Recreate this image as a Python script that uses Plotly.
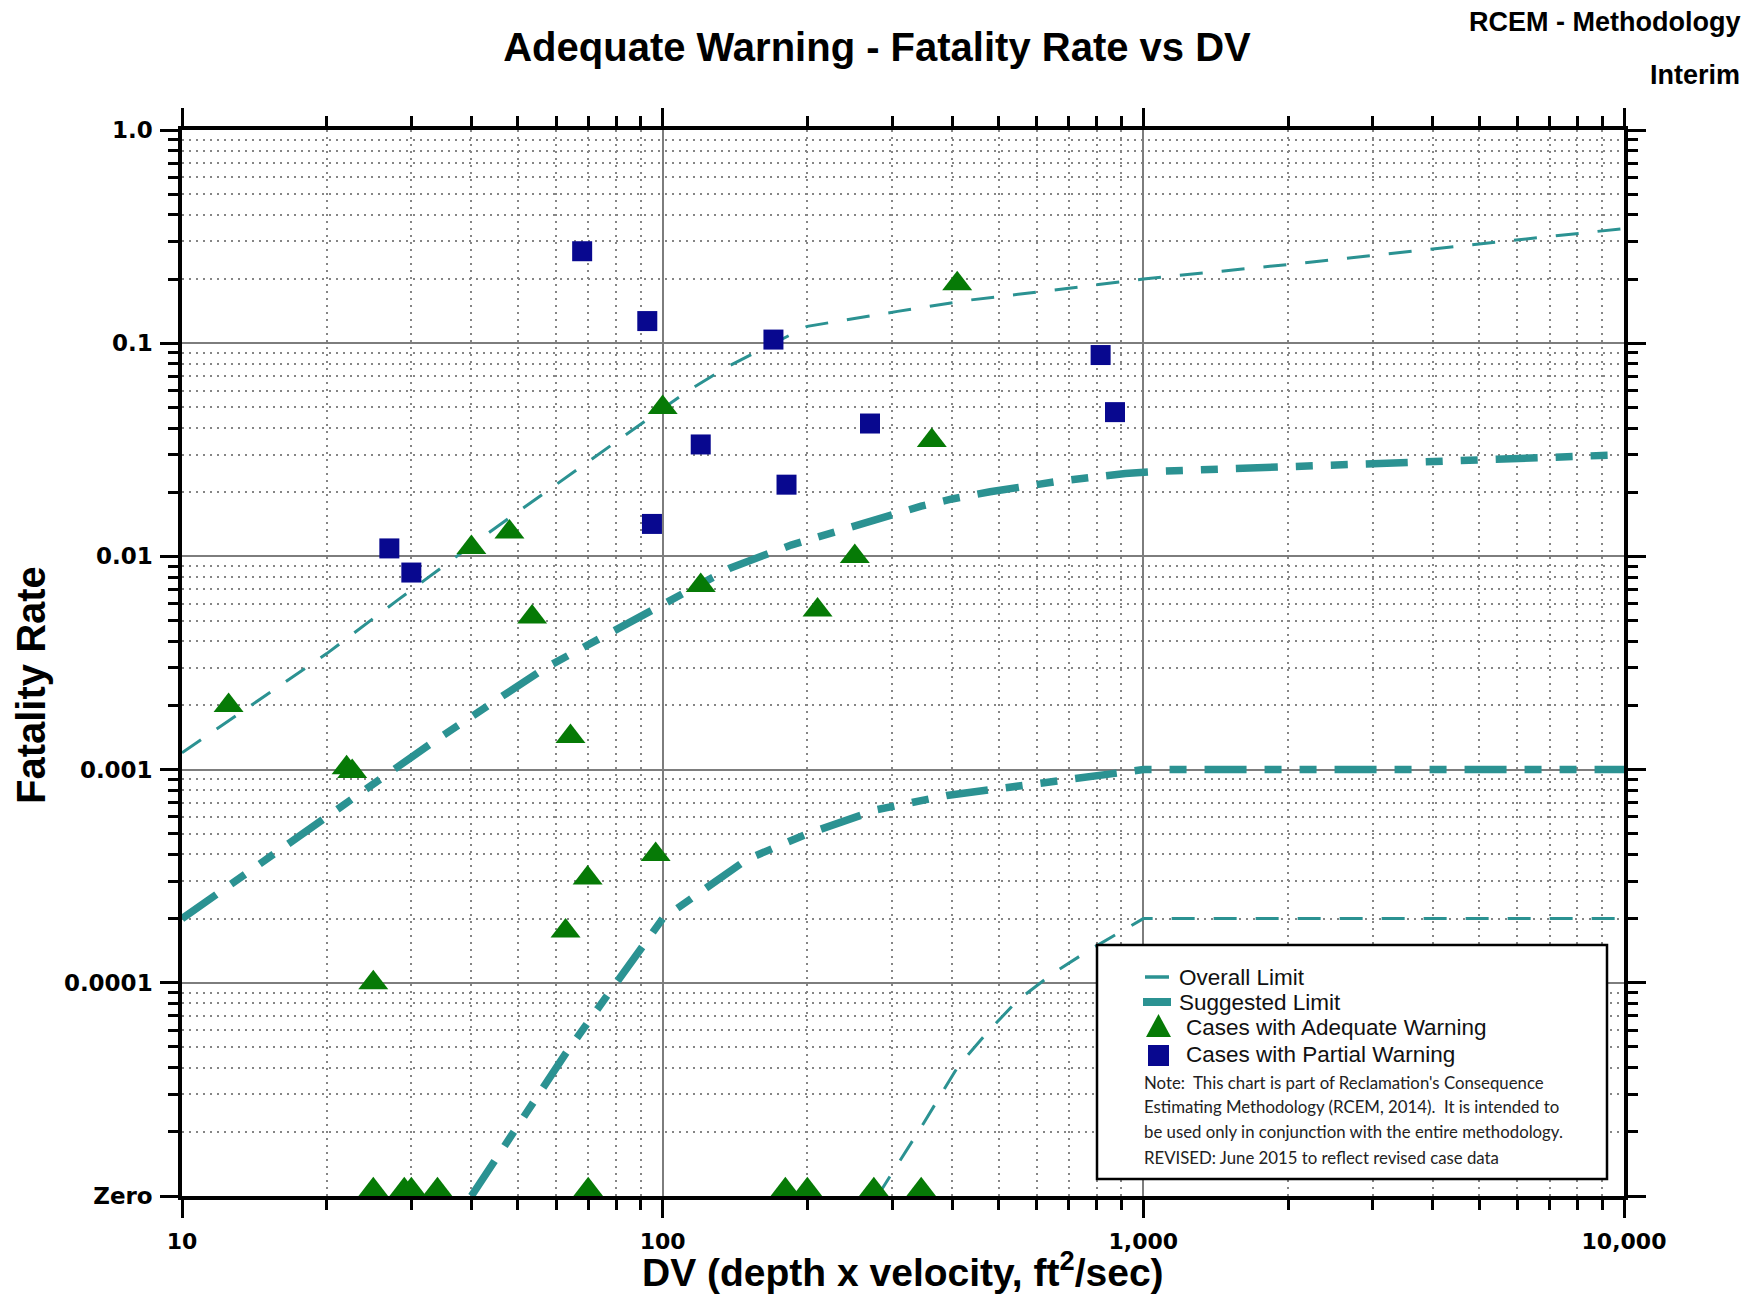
import plotly.graph_objects as go

# ---- Limit curves (DV in ft^2/s, fatality rate) ----
overall_upper_dv = [10, 20, 28, 43, 94, 114, 137, 170, 200, 308, 432, 700, 1000, 2000, 3860, 7300, 10000]
overall_upper_fr = [0.0012, 0.0035, 0.0062, 0.0127, 0.0447, 0.0606, 0.078, 0.100, 0.120, 0.141, 0.159,
                    0.181, 0.200, 0.234, 0.275, 0.320, 0.345]

suggested_upper_dv = [10, 20, 33.5, 57, 100, 138, 185, 256, 345, 400, 480, 656, 918, 1100, 2000, 4000,
                      7700, 10000]
suggested_upper_fr = [0.0002, 0.0006, 0.00136, 0.003, 0.006, 0.0088, 0.0113, 0.0142, 0.0172, 0.0186,
                      0.0201, 0.0224, 0.0245, 0.0251, 0.0263, 0.0277, 0.029, 0.030]

suggested_lower_dv = [40, 49, 63, 78, 92, 100, 118, 150, 200, 280, 390, 480, 605, 715, 908, 1000, 10000]
suggested_lower_fr = [1e-5, 2e-5, 4.7e-5, 9.2e-5, 0.000153, 0.0002, 0.00026, 0.00038, 0.0005, 0.00065,
                      0.000756, 0.000806, 0.000857, 0.000898, 0.000965, 0.001, 0.001]

overall_lower_dv = [280, 312, 348, 412, 476, 550, 650, 774, 946, 1000, 10000]
overall_lower_fr = [1e-5, 1.46e-5, 2.17e-5, 4.07e-5, 5.93e-5, 8.35e-5, 1.11e-4, 1.43e-4, 1.85e-4, 2e-4, 2e-4]

# ---- Case data ----
adequate_dv = [12.5, 22, 22.6, 25, 40, 48, 53.5, 62.8, 64.3, 69.8, 96.7, 100, 120, 210, 251, 363, 410]
adequate_fr = [0.002, 0.00102, 0.00098, 0.0001, 0.011, 0.013, 0.0052, 0.000175, 0.00143, 0.00031,
               0.0004, 0.05, 0.0073, 0.0056, 0.01, 0.035, 0.19]
# cases with no fatalities, plotted on the "Zero" baseline
adequate_zero_dv = [25, 29, 30, 34, 70, 180, 200, 275, 345]

partial_dv = [27, 30, 68, 92.9, 95, 120, 170, 181, 270, 815, 873]
partial_fr = [0.0109, 0.0084, 0.27, 0.127, 0.0142, 0.0335, 0.104, 0.0217, 0.042, 0.088, 0.0475]

# ---- Axis ticks ----
x_tick_vals = [10, 100, 1000, 10000]
x_tick_text = ["10", "100", "1,000", "10,000"]
y_tick_vals = [1e-5, 1e-4, 1e-3, 1e-2, 1e-1, 1.0]
y_tick_text = ["Zero", "0.0001", "0.001", "0.01", "0.1", "1.0"]
x_minor_vals = [m * 10 ** e for e in (1, 2, 3) for m in range(2, 10)]
y_minor_vals = [m * 10.0 ** e for e in (-5, -4, -3, -2, -1) for m in range(2, 10)]

ZERO_MARK = 1.07e-5        # triangles rest on top of the Zero baseline (1e-5)

TEAL = "#2b9292"
GREEN = "#067a06"
NAVY = "#08088f"

W, H = 1754, 1297
PL, PT, PR, PB = 182, 130, 130, 101
PW, PH = W - PL - PR, H - PT - PB


def px(X):
    return (X - PL) / PW


def py(Y):
    return 1 - (Y - PT) / PH


fig = go.Figure()

overall_style = dict(color=TEAL, width=3, dash="23px,19px")
suggested_style = dict(color=TEAL, width=7.5, dash="42px,18px,17px,18px,17px,18px")

fig.add_trace(go.Scatter(x=suggested_upper_dv, y=suggested_upper_fr, mode="lines",
                         line=suggested_style, hoverinfo="skip", showlegend=False))
fig.add_trace(go.Scatter(x=suggested_lower_dv, y=suggested_lower_fr, mode="lines",
                         line=suggested_style, hoverinfo="skip", showlegend=False))
fig.add_trace(go.Scatter(x=overall_upper_dv, y=overall_upper_fr, mode="lines",
                         line=overall_style, hoverinfo="skip", showlegend=False))
fig.add_trace(go.Scatter(x=overall_lower_dv, y=overall_lower_fr, mode="lines",
                         line=overall_style, hoverinfo="skip", showlegend=False))

fig.add_trace(go.Scatter(
    x=adequate_dv + adequate_zero_dv,
    y=adequate_fr + [ZERO_MARK] * len(adequate_zero_dv),
    mode="markers", cliponaxis=False, showlegend=False,
    marker=dict(symbol="triangle-up", size=26, color=GREEN, line=dict(width=0)),
))
fig.add_trace(go.Scatter(
    x=partial_dv, y=partial_fr, mode="markers", cliponaxis=False, showlegend=False,
    marker=dict(symbol="square", size=20, color=NAVY, line=dict(width=0)),
))

x_tick_font = dict(family="DejaVu Sans", size=22, color="black", weight="bold")
y_tick_font = dict(family="DejaVu Sans", size=23, color="black", weight="bold")
major_grid = dict(showgrid=True, gridcolor="#7d7d7d", gridwidth=2)

fig.update_xaxes(
    type="log", range=[1, 4], tickmode="array", tickvals=x_tick_vals, ticktext=x_tick_text,
    ticks="outside", ticklen=18, tickwidth=3, tickcolor="black",
    showline=True, linewidth=3.5, linecolor="black", mirror="ticks",
    tickfont=x_tick_font, ticklabelstandoff=5, **major_grid,
    minor=dict(tickmode="array", tickvals=x_minor_vals, ticks="outside", ticklen=10,
               tickwidth=3, tickcolor="black", showgrid=True, gridcolor="#858585",
               gridwidth=1.6, griddash="2px,5px"),
)
fig.update_yaxes(
    type="log", range=[-5, 0], tickmode="array", tickvals=y_tick_vals, ticktext=y_tick_text,
    ticks="outside", ticklen=18, tickwidth=3, tickcolor="black",
    showline=True, linewidth=3.5, linecolor="black", mirror="ticks",
    tickfont=y_tick_font, ticklabelstandoff=3, **major_grid,
    minor=dict(tickmode="array", tickvals=y_minor_vals, ticks="outside", ticklen=10,
               tickwidth=3, tickcolor="black", showgrid=True, gridcolor="#858585",
               gridwidth=1.6, griddash="2px,5px"),
)

# ---- Legend panel with note ----
shapes = [
    dict(type="rect", xref="paper", yref="paper", x0=px(1097), x1=px(1607), y0=py(1179), y1=py(945),
         line=dict(color="black", width=2.5), fillcolor="white", layer="above"),
    dict(type="line", xref="paper", yref="paper", x0=px(1145), x1=px(1169), y0=py(977), y1=py(977),
         line=dict(color=TEAL, width=3.5), layer="above"),
    dict(type="line", xref="paper", yref="paper", x0=px(1143), x1=px(1171), y0=py(1002), y1=py(1002),
         line=dict(color=TEAL, width=8), layer="above"),
    dict(type="path", xref="paper", yref="paper",
         path=f"M {px(1146)} {py(1037)} L {px(1171)} {py(1037)} L {px(1158.5)} {py(1014)} Z",
         fillcolor=GREEN, line=dict(width=0), layer="above"),
    dict(type="rect", xref="paper", yref="paper", x0=px(1148), x1=px(1169), y0=py(1066), y1=py(1045),
         fillcolor=NAVY, line=dict(width=0), layer="above"),
]

legend_font = dict(family="Liberation Sans", size=22.5, color="#111111")
note_font = dict(family="Lato", size=16.8, color="#222222")

annotations = [
    dict(text="Overall Limit", x=px(1177), y=py(977), xanchor="left", yanchor="middle", font=legend_font),
    dict(text="Suggested Limit", x=px(1177), y=py(1002), xanchor="left", yanchor="middle", font=legend_font),
    dict(text="Cases with Adequate Warning", x=px(1184), y=py(1027), xanchor="left", yanchor="middle",
         font=legend_font),
    dict(text="Cases with Partial Warning", x=px(1184), y=py(1054), xanchor="left", yanchor="middle",
         font=legend_font),
    dict(text="Note:  This chart is part of Reclamation's Consequence", x=px(1142), y=py(1082),
         xanchor="left", yanchor="middle", font=note_font),
    dict(text="Estimating Methodology (RCEM, 2014).  It is intended to", x=px(1142), y=py(1106),
         xanchor="left", yanchor="middle", font=note_font),
    dict(text="be used only in conjunction with the entire methodology.", x=px(1142), y=py(1131),
         xanchor="left", yanchor="middle", font=note_font),
    dict(text="REVISED: June 2015 to reflect revised case data", x=px(1142), y=py(1157),
         xanchor="left", yanchor="middle", font=note_font),
    # header tags
    dict(text="RCEM - Methodology", x=px(1742), y=py(22), xanchor="right", yanchor="middle",
         font=dict(family="Liberation Sans", size=27, color="black", weight="bold")),
    dict(text="Interim", x=px(1742), y=py(75), xanchor="right", yanchor="middle",
         font=dict(family="Liberation Sans", size=27, color="black", weight="bold")),
    # axis titles
    dict(text="Fatality Rate", x=px(31), y=py(685), textangle=-90, xanchor="center", yanchor="middle",
         font=dict(family="Liberation Sans", size=40, color="black", weight="bold")),
    dict(text="DV (depth x velocity, ft<sup>2</sup>/sec)", x=px(903), y=py(1269), xanchor="center",
         yanchor="middle", font=dict(family="Liberation Sans", size=39, color="black", weight="bold")),
]
for a in annotations:
    a.update(xref="paper", yref="paper", showarrow=False)

fig.update_layout(
    width=W, height=H,
    margin=dict(l=PL, r=PR, t=PT, b=PB),
    paper_bgcolor="white", plot_bgcolor="white",
    title=dict(text="Adequate Warning - Fatality Rate vs DV", x=0.5, xref="container", xanchor="center",
               y=1 - 47 / H, yref="container", yanchor="middle",
               font=dict(family="Liberation Sans", size=40, color="black", weight="bold")),
    shapes=shapes, annotations=annotations, showlegend=False,
)

fig.write_html("out.html")
